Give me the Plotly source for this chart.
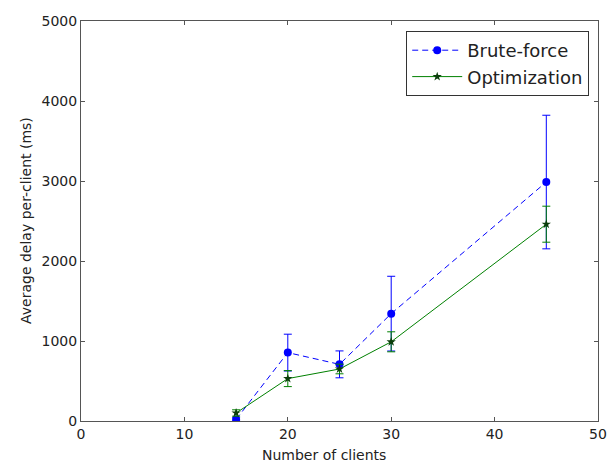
import plotly.graph_objects as go

clients = [15, 20, 25, 30, 45]
brute = [20, 855, 708, 1342, 2987]
brute_err = [20, 230, 168, 467, 835]
optim = [100, 530, 650, 990, 2460]
optim_err = [40, 100, 60, 125, 225]

fig = go.Figure()
fig.add_trace(go.Scatter(
    x=clients, y=brute, name="Brute-force", mode="lines+markers",
    line=dict(color="#0000ff", width=1, dash="6px,4px"),
    marker=dict(symbol="circle", size=8, color="#0000ff"),
    error_y=dict(type="data", array=brute_err, visible=True, color="#0000ff", thickness=1, width=4),
))
fig.add_trace(go.Scatter(
    x=clients, y=optim, name="Optimization", mode="lines+markers",
    line=dict(color="#008000", width=1),
    marker=dict(symbol="star", size=7, color="#0b3d0b"),
    error_y=dict(type="data", array=optim_err, visible=True, color="#008000", thickness=1, width=4),
))

axis_common = dict(
    showgrid=False, zeroline=False, showline=True, linecolor="#555555", linewidth=1,
    mirror="ticks", ticks="inside", ticklen=4, tickcolor="#555555", automargin=False,
    tickfont=dict(family="DejaVu Sans", size=14, color="#222222"),
)
fig.update_xaxes(range=[0, 50], dtick=10, tick0=0, **axis_common)
fig.update_yaxes(range=[0, 5000], dtick=1000, tick0=0, **axis_common)

title_font = dict(family="DejaVu Sans", size=14, color="#222222")
fig.add_annotation(text="Number of clients", xref="paper", yref="paper",
                   x=0.47, y=0, yshift=-34, xanchor="center", yanchor="middle",
                   showarrow=False, font=title_font)
fig.add_annotation(text="Average delay per-client (ms)", xref="paper", yref="paper",
                   x=0, xshift=-55, y=0.5, textangle=-90, xanchor="center", yanchor="middle",
                   showarrow=False, font=title_font)

fig.update_layout(
    width=610, height=466,
    margin=dict(l=81, r=12, t=21, b=45),
    paper_bgcolor="white", plot_bgcolor="white",
    font=dict(family="DejaVu Sans", color="#222222"),
    legend=dict(x=0.983, y=0.975, xanchor="right", yanchor="top",
                bordercolor="#333333", borderwidth=1, bgcolor="white",
                font=dict(family="DejaVu Sans", size=18, color="#222222"),
                tracegroupgap=0, itemwidth=50),
)

fig.write_html("out.html")
